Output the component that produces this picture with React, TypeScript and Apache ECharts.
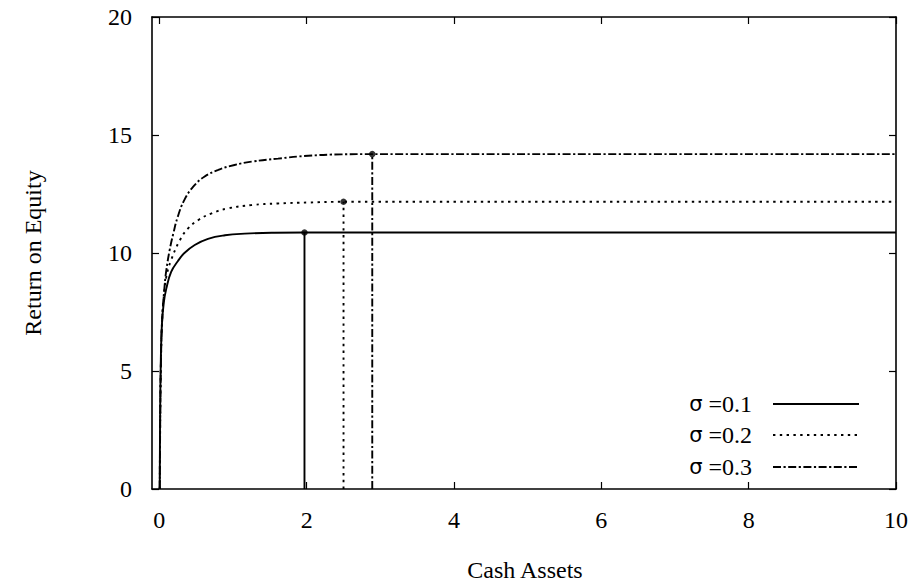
import React, { useEffect, useRef } from "react";
import * as echarts from "echarts";

// Return on equity against cash assets for three volatility levels
const sigmaLabels = ["0.1", "0.2", "0.3"];

const curveX01 = [0.005, 0.01, 0.02, 0.035, 0.06, 0.095, 0.16, 0.25, 0.34, 0.48, 0.66, 0.89, 1.16, 1.56, 1.97, 10];
const curveY01 = [0, 3.0, 5.5, 7.0, 7.9, 8.5, 9.2, 9.65, 10.0, 10.34, 10.6, 10.75, 10.82, 10.86, 10.87, 10.87];

const curveX02 = [0.005, 0.012, 0.022, 0.038, 0.065, 0.095, 0.16, 0.28, 0.39, 0.53, 0.71, 0.93, 1.25, 1.61, 2.02, 2.5, 10];
const curveY02 = [0, 3.0, 5.5, 7.2, 8.3, 9.0, 9.7, 10.55, 11.04, 11.4, 11.68, 11.89, 12.03, 12.1, 12.14, 12.17, 12.17];

const curveX03 = [0.005, 0.012, 0.022, 0.04, 0.07, 0.095, 0.14, 0.19, 0.25, 0.34, 0.46, 0.61, 0.8, 1.02, 1.25, 1.61, 2.02, 2.47, 2.89, 10];
const curveY03 = [0, 3.0, 5.5, 7.3, 8.57, 9.28, 10.13, 10.83, 11.54, 12.25, 12.81, 13.23, 13.52, 13.73, 13.87, 14.0, 14.12, 14.18, 14.19, 14.19];

// Optimal cash holdings and the corresponding return
const peakX = [1.97, 2.5, 2.89];
const peakY = [10.87, 12.17, 14.19];

const xTicks = [0, 2, 4, 6, 8, 10];
const yTicks = [0, 5, 10, 15, 20];

const FONT = "'Liberation Serif', 'Times New Roman', serif";
const FONT_SIZE = 24;
const dashStyles: any[] = ["solid", [2.4, 4.4], [8, 2.5, 2.2, 2.5]];
const LINE_W = 1.9;

function zip(xs: number[], ys: number[]) {
  return xs.map((x, i) => [x, ys[i]]);
}

export default function App() {
  const ref = useRef<HTMLDivElement>(null);

  useEffect(() => {
    if (!ref.current) return;
    const chart = echarts.init(ref.current, undefined, { renderer: "svg" });

    const curves = [zip(curveX01, curveY01), zip(curveX02, curveY02), zip(curveX03, curveY03)];

    const series: any[] = [];
    curves.forEach((data, i) => {
      series.push({
        type: "line",
        name: "σ =" + sigmaLabels[i],
        data,
        smooth: 0.45,
        showSymbol: false,
        lineStyle: { color: "#000", width: LINE_W, type: dashStyles[i], cap: "butt" },
        z: 3,
      });
      series.push({
        type: "line",
        data: [
          [peakX[i], 0],
          [peakX[i], peakY[i]],
        ],
        showSymbol: false,
        lineStyle: { color: "#000", width: LINE_W, type: dashStyles[i], cap: "butt" },
        z: 3,
      });
    });
    series.push({
      type: "scatter",
      data: zip(peakX, peakY),
      symbol: "circle",
      symbolSize: 6.5,
      itemStyle: { color: "#000" },
      z: 5,
    });

    const axisLine = { show: true, onZero: false, lineStyle: { color: "#000", width: 1.6 } };
    const tickStyle = { show: true, inside: true, length: 7, lineStyle: { color: "#000", width: 1.2 } };
    const labelStyle = { color: "#000", fontFamily: FONT, fontSize: FONT_SIZE };

    // Legend drawn inside the plot, bottom right
    const legendY = [404, 435, 467];
    const graphic: any[] = [];
    sigmaLabels.forEach((s, i) => {
      graphic.push({
        type: "text",
        x: 752,
        y: legendY[i],
        style: {
          text: "{g|σ} =" + s,
          align: "right",
          verticalAlign: "middle",
          fontFamily: FONT,
          fontSize: FONT_SIZE,
          fill: "#000",
          rich: {
            g: { fontFamily: "'DejaVu Sans', sans-serif", fontSize: 21, fill: "#000" },
          },
        },
      });
      graphic.push({
        type: "line",
        shape: { x1: 773, y1: legendY[i], x2: 859, y2: legendY[i] },
        style: {
          stroke: "#000",
          lineWidth: LINE_W,
          lineDash: dashStyles[i] === "solid" ? null : dashStyles[i],
        },
      });
    });
    graphic.push({
      type: "text",
      x: 525,
      y: 570,
      style: {
        text: "Cash Assets",
        align: "center",
        verticalAlign: "middle",
        fontFamily: FONT,
        fontSize: FONT_SIZE,
        fill: "#000",
      },
    });
    graphic.push({
      type: "text",
      x: 33,
      y: 253,
      rotation: Math.PI / 2,
      style: {
        text: "Return on Equity",
        align: "center",
        verticalAlign: "middle",
        fontFamily: FONT,
        fontSize: FONT_SIZE,
        fill: "#000",
      },
    });

    chart.setOption({
      animation: false,
      backgroundColor: "#fff",
      grid: { left: 152, right: 23, top: 17, bottom: 96, containLabel: false },
      xAxis: [
        {
          type: "value",
          min: -0.1,
          max: 10,
          position: "bottom",
          axisLine,
          axisTick: { ...tickStyle, customValues: xTicks },
          axisLabel: { ...labelStyle, margin: 19, customValues: xTicks, showMinLabel: true, showMaxLabel: true },
          splitLine: { show: false },
        },
        {
          type: "value",
          min: -0.1,
          max: 10,
          position: "top",
          axisLine,
          axisTick: { ...tickStyle, customValues: xTicks },
          axisLabel: { show: false },
          splitLine: { show: false },
        },
      ],
      yAxis: [
        {
          type: "value",
          min: 0,
          max: 20,
          interval: 5,
          position: "left",
          axisLine,
          axisTick: { ...tickStyle, customValues: yTicks },
          axisLabel: { ...labelStyle, margin: 20, customValues: yTicks },
          splitLine: { show: false },
        },
        {
          type: "value",
          min: 0,
          max: 20,
          interval: 5,
          position: "right",
          axisLine,
          axisTick: { ...tickStyle, customValues: yTicks },
          axisLabel: { show: false },
          splitLine: { show: false },
        },
      ],
      series,
      graphic,
    });

    return () => chart.dispose();
  }, []);

  return <div ref={ref} style={{ width: 919, height: 585, position: "absolute", left: 0, top: 0 }} />;
}
